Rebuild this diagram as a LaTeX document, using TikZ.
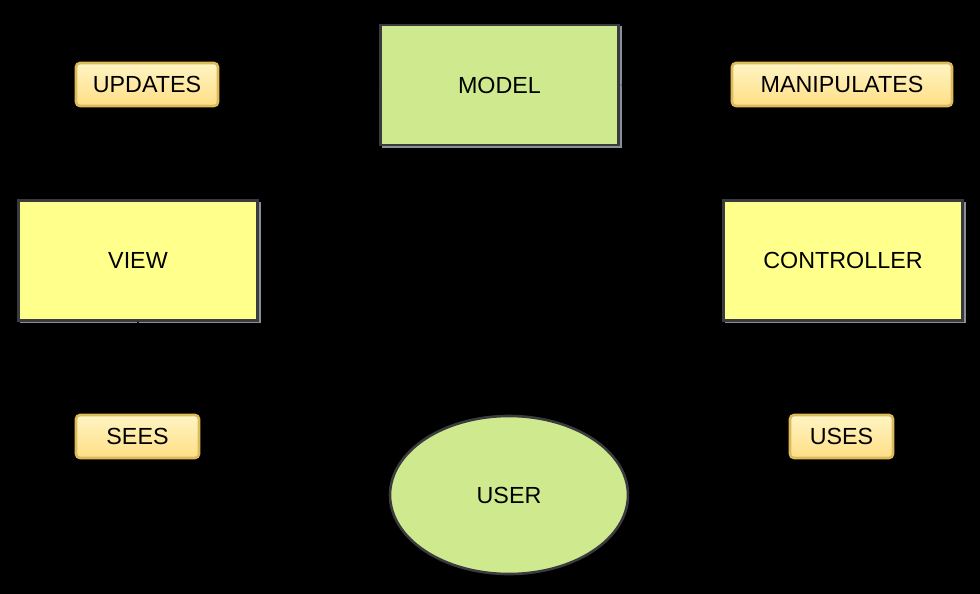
\documentclass[tikz,border=0pt]{standalone}
\usepackage{fontspec}
\setmainfont{Liberation Sans}
\usetikzlibrary{shapes.geometric,arrows.meta}
\definecolor{modelfill}{HTML}{CFEA8E}
\definecolor{boxfill}{HTML}{FFFF8C}
\definecolor{edgegray}{HTML}{3A3B3F}
\definecolor{shadowgray}{HTML}{8A8E96}
\definecolor{labtop}{HTML}{FFF4C4}
\definecolor{labbot}{HTML}{FFDF85}
\definecolor{labedge}{HTML}{DDBB5C}
\tikzset{
  x=1pt, y=-1pt,
  txt/.style={font=\fontsize{23.3}{27}\selectfont, text=black},
  mainbox/.style={rectangle, draw=edgegray, line width=2.6pt, minimum width=238pt, minimum height=120pt, txt},
  labelbox/.style={rectangle, rounded corners=4pt, draw=labedge, line width=2.6pt, top color=labtop, bottom color=labbot, minimum height=43pt, txt},
  conn/.style={draw=black, line width=1.5pt, -{Latex[length=10pt]}},
}
\begin{document}
\begin{tikzpicture}
\fill[black] (0,0) rectangle (980,594);
\useasboundingbox (0,0) rectangle (980,594);
% shadows
\fill[shadowgray] (382,26) rectangle (622,148);
\fill[shadowgray] (20,202) rectangle (261,323);
\fill[shadowgray] (725,202) rectangle (966,323);
% main nodes
\node[mainbox, fill=modelfill] (model) at (499.5,85) {MODEL};
\node[mainbox, fill=boxfill, minimum width=239pt] (view) at (138,260.5) {VIEW};
\node[mainbox, fill=boxfill, minimum width=239pt] (ctrl) at (843,260.5) {CONTROLLER};
\node[ellipse, draw=edgegray, line width=2.6pt, fill=modelfill, minimum width=238pt, minimum height=158pt, txt] (user) at (509,495) {USER};
% connectors (black, as in reference)
\coordinate (c1) at (137,85);
\coordinate (c2) at (137,495);
\coordinate (c3) at (843,495);
\coordinate (c4) at (843,85);
\draw[conn] (model.west) -- (c1) -- (view.north);
\draw[conn] (view.south) -- (c2) -- (user.west);
\draw[conn] (user.east) -- (c3) -- (ctrl.south);
\draw[conn] (ctrl.north) -- (c4) -- (model.east);
% labels
\node[labelbox, minimum width=142pt] (updates) at (147,84.5) {UPDATES};
\node[labelbox, minimum width=220pt] (manip) at (842,84.5) {MANIPULATES};
\node[labelbox, minimum width=123pt] (sees) at (137.5,436.5) {SEES};
\node[labelbox, minimum width=103pt] (uses) at (841.5,436.5) {USES};
\end{tikzpicture}
\end{document}
